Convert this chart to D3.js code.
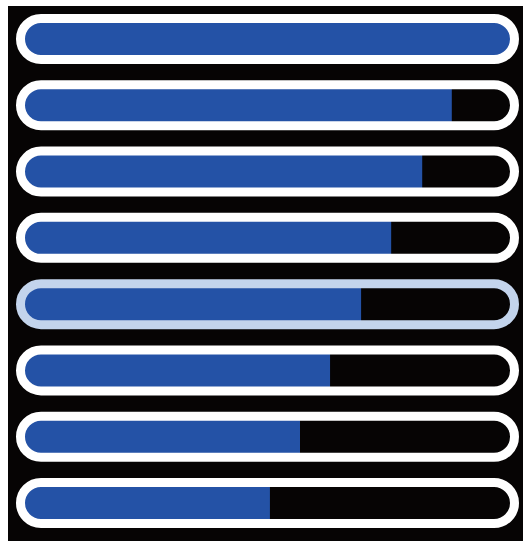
<!DOCTYPE html>
<html>
<head>
<meta charset="utf-8">
<script src="https://cdn.jsdelivr.net/npm/d3@7"></script>
<style>
	body { margin: 0; background: #fff; }
</style>
</head>
<body>
<div class="container"></div>
<script>
const WIDTH = 523
	, HEIGHT = 541
	, STROKE = 9;

// one pill per level, top to bottom
var levels = ['L1', 'L2', 'L3', 'L4', 'L5', 'L6', 'L7', 'L8'];
var values = [100, 88, 81.9, 75.5, 69.3, 62.9, 56.7, 50.5];
var highlighted = ['L5'];

var translate = function (x, y) {
	return "translate(" + x + "," + y + ")";
};

var svg = d3.select('.container').append('svg')
	.attr('width', WIDTH)
	.attr('height', HEIGHT);

svg.append('rect')
	.attr('x', 8)
	.attr('y', 6)
	.attr('width', WIDTH - 8)
	.attr('height', HEIGHT - 6)
	.attr('fill', '#060404');

var _yScale = d3.scaleBand()
	.domain(levels)
	.range([14, 528])
	.paddingInner(0.246)
	.paddingOuter(0);

// value scale runs over the inside of the pill
var _xScale = d3.scaleLinear()
	.domain([0, 100])
	.range([16 + STROKE, 519 - STROKE]);

var outerLeft = 16, outerRight = 519;
var h = _yScale.bandwidth();

var defs = svg.append('defs');
defs.selectAll('clipPath').data(levels)
	.enter().append('clipPath')
	.attr('id', function (d, i) { return 'clip' + i; })
	.append('rect')
	.attr('x', outerLeft + STROKE / 2)
	.attr('y', function (d) { return _yScale(d) + STROKE / 2; })
	.attr('width', outerRight - outerLeft - STROKE)
	.attr('height', h - STROKE)
	.attr('rx', (h - STROKE) / 2);

var rows = svg.selectAll('.row').data(levels)
	.enter().append('g')
	.classed('row', true);

rows.append('rect')
	.attr('clip-path', function (d, i) { return 'url(#clip' + i + ')'; })
	.attr('x', outerLeft)
	.attr('y', function (d) { return _yScale(d); })
	.attr('width', function (d, i) { return _xScale(values[i]) - outerLeft; })
	.attr('height', h)
	.attr('fill', '#2452a6');

rows.append('rect')
	.attr('x', outerLeft + STROKE / 2)
	.attr('y', function (d) { return _yScale(d) + STROKE / 2; })
	.attr('width', outerRight - outerLeft - STROKE)
	.attr('height', h - STROKE)
	.attr('rx', (h - STROKE) / 2)
	.attr('fill', 'none')
	.attr('stroke', function (d) { return highlighted.indexOf(d) >= 0 ? '#c3d4ec' : '#ffffff'; })
	.attr('stroke-width', STROKE);
</script>
</body>
</html>
